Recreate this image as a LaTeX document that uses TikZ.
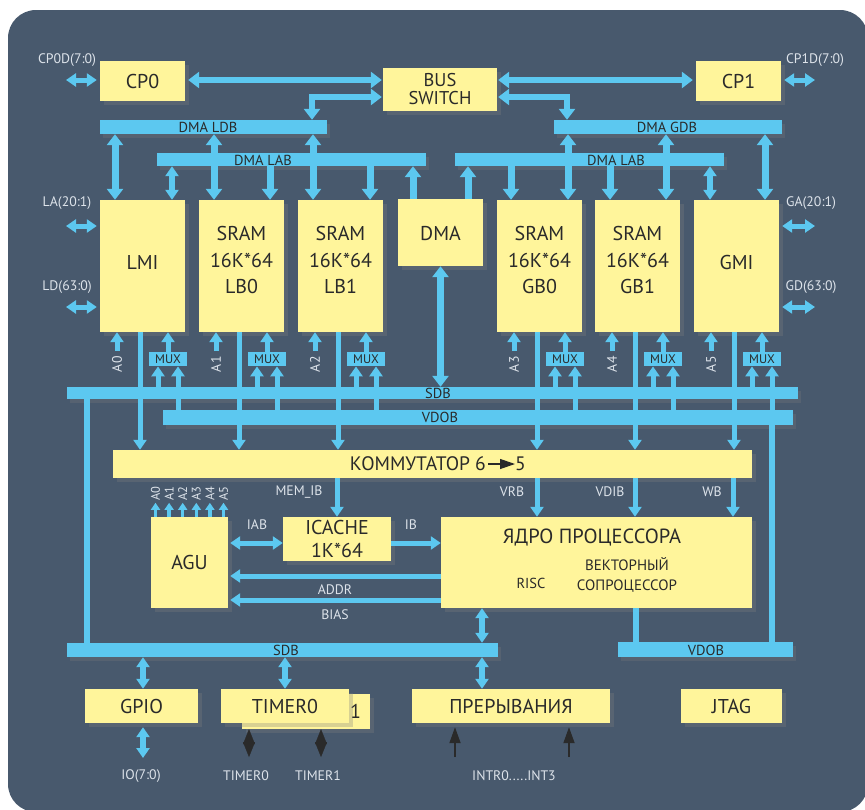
\documentclass[tikz,border=0pt]{standalone}
\usepackage{fontspec}
\setmainfont{PT Sans}
\usetikzlibrary{arrows.meta,shadows}
\definecolor{panel}{HTML}{48596D}
\definecolor{boxyellow}{HTML}{FFF59B}
\definecolor{busblue}{HTML}{5CC8F0}
\definecolor{inktext}{HTML}{2A2A2A}
\definecolor{pintext}{HTML}{DDE3EA}
\tikzset{
  block/.style={fill=boxyellow, text=inktext, inner sep=0pt, align=center,
    font=\fontsize{20}{26.5}\selectfont,
    drop shadow={shadow xshift=4pt,shadow yshift=-4pt,opacity=0.3}},
  boxtext/.style={text=inktext, inner sep=0pt, align=center, font=\fontsize{20}{26.5}\selectfont},
  coretext/.style={text=inktext, inner sep=0pt, font=\fontsize{14.5}{16}\selectfont},
  busbar/.style={fill=busblue, inner sep=0pt, minimum height=14pt,
    drop shadow={shadow xshift=3pt,shadow yshift=-4pt,opacity=0.25}},
  busname/.style={text=inktext, inner sep=0pt, font=\fontsize{14.5}{15}\selectfont},
  muxbox/.style={fill=busblue, text=inktext, inner sep=0pt, minimum width=38pt,
    minimum height=14pt, font=\fontsize{12.5}{13}\selectfont},
  pin/.style={text=pintext, inner sep=0pt, font=\fontsize{13.8}{15}\selectfont},
  fat/.style={draw=busblue, line width=7pt, >={Triangle[width=16pt,length=11pt]}},
  mid/.style={draw=busblue, line width=5pt, >={Triangle[width=13pt,length=10pt]}},
  tiny/.style={draw=busblue, line width=3.5pt, >={Triangle[width=9pt,length=7pt]}},
  sig/.style={draw=inktext, fill=inktext, line width=1.8pt, >={Triangle[width=11pt,length=16pt]}},
}
\begin{document}
\begin{tikzpicture}[x=1pt,y=-1pt]
\useasboundingbox (0,0) rectangle (865,809);
\fill[panel, rounded corners=28pt] (8,10) rectangle (868,812);

% buses
\node[busbar, minimum width=227pt] (ldb) at (213.5,127) {};
\node[busbar, minimum width=228pt] (gdb) at (668,127) {};
\node[busbar, minimum width=269pt, minimum height=13pt] (labl) at (291.5,159.5) {};
\node[busbar, minimum width=269pt, minimum height=13pt] (labr) at (589.5,159.5) {};
\node[busbar, minimum width=731pt, minimum height=12pt] (sdbup) at (432.5,393) {};
\node[busbar, minimum width=630pt, minimum height=15pt] (vdobup) at (478,417.5) {};
\node[busbar, minimum width=431pt] (sdblow) at (282.5,650) {};
\node[busbar, minimum width=175pt, minimum height=15pt] (vdoblow) at (705.5,649.5) {};
\node[busname] at (208,127) {DMA LDB};
\node[busname] at (667,127) {DMA GDB};
\node[busname] at (263,160) {DMA LAB};
\node[busname] at (616,160) {DMA LAB};
\node[busname] at (438,393) {SDB};
\node[busname] at (440,417) {VDOB};
\node[busname] at (286,650) {SDB};
\node[busname] at (706,650) {VDOB};

% blocks
\node[block, minimum width=85pt, minimum height=40pt] (cpzero) at (142.5,81) {CP0};
\node[block, minimum width=114pt, minimum height=43pt] (bus) at (440,89.5) {};
\node[boxtext, font=\fontsize{18.5}{19}\selectfont] (busup) at (440,80.5) {BUS};
\node[boxtext, font=\fontsize{18.5}{19}\selectfont] (buslow) at (440,98) {SWITCH};
\node[block, minimum width=85pt, minimum height=40pt] (cpone) at (738.5,81) {CP1};
\node[block, minimum width=85pt, minimum height=132pt] (lmi) at (142.5,266) {};
\node[block, minimum width=85pt, minimum height=132pt] (lbz) at (241.5,266) {};
\node[block, minimum width=85pt, minimum height=132pt] (lbo) at (340.5,266) {};
\node[block, minimum width=85pt, minimum height=67pt] (dma) at (440.5,232.5) {};
\node[block, minimum width=85pt, minimum height=132pt] (gbz) at (539.5,266) {};
\node[block, minimum width=85pt, minimum height=132pt] (gbo) at (637.5,266) {};
\node[block, minimum width=85pt, minimum height=132pt] (gmi) at (736.5,266) {};
\node[boxtext] at ([yshift=4pt]lmi.center) {LMI};
\node[boxtext] at ([yshift=6pt]lbz.center) {SRAM\\16K*64\\LB0};
\node[boxtext] at ([yshift=6pt]lbo.center) {SRAM\\16K*64\\LB1};
\node[boxtext] at ([yshift=-1pt]dma.center) {DMA};
\node[boxtext] at ([yshift=6pt]gbz.center) {SRAM\\16K*64\\GB0};
\node[boxtext] at ([yshift=6pt]gbo.center) {SRAM\\16K*64\\GB1};
\node[boxtext] at ([yshift=4pt]gmi.center) {GMI};
\node[block, minimum width=639pt, minimum height=28pt] (kom) at (432.5,464) {};
\node[boxtext, anchor=east, font=\fontsize{19.5}{20}\selectfont] (komtext) at (486,464) {КОММУТАТОР 6};
\node[boxtext, anchor=west, font=\fontsize{19.5}{20}\selectfont] (komfive) at (515,464) {5};
\node[block, minimum width=77pt, minimum height=91pt] (agu) at (189.5,562.5) {AGU};
\node[block, minimum width=108pt, minimum height=44pt, font=\fontsize{20}{23}\selectfont] (icache) at (337,539) {ICACHE\\1K*64};
\node[block, minimum width=311pt, minimum height=91pt] (core) at (596.5,562.5) {};
\node[boxtext, font=\fontsize{20.5}{21}\selectfont] (coretitle) at (592,538) {ЯДРО ПРОЦЕССОРА};
\node[coretext] (risc) at (531,583) {RISC};
\node[coretext, align=center, font=\fontsize{15}{20}\selectfont] (vector) at (627,575) {ВЕКТОРНЫЙ\\СОПРОЦЕССОР};
\node[block, minimum width=113pt, minimum height=34pt] (gpio) at (141.5,706) {GPIO};
\node[block, minimum width=128pt, minimum height=35pt] (tmrone) at (306,711.5) {};
\node[boxtext, anchor=east] at ([xshift=-9pt]tmrone.east) {1};
\node[block, minimum width=128pt, minimum height=34pt] (tmrzero) at (285,706) {TIMER0};
\node[block, minimum width=198pt, minimum height=34pt] (intr) at (511,706) {ПРЕРЫВАНИЯ};
\node[block, minimum width=101pt, minimum height=34pt] (jtag) at (731.5,706) {JTAG};

% outside pins
\coordinate (cpzpin) at (66,80);
\coordinate (cpopin) at (815,80);
\coordinate (lapin) at (66,226);
\coordinate (ldpin) at (66,307);
\coordinate (gapin) at (815,226);
\coordinate (gdpin) at (815,307);
\node[pin] at (67,60) {CP0D(7:0)};
\node[pin] at (815,60) {CP1D(7:0)};
\node[pin] at (67,203) {LA(20:1)};
\node[pin] at (67,287) {LD(63:0)};
\node[pin] at (811,203) {GA(20:1)};
\node[pin] at (811,287) {GD(63:0)};
\draw[mid,<->] (cpzpin) -- ([xshift=-3pt]cpzpin -| cpzero.west);
\draw[mid,<->] ([xshift=3pt]cpopin -| cpone.east) -- (cpopin);
\draw[mid,<->] (lapin) -- ([xshift=-3pt]lapin -| lmi.west);
\draw[mid,<->] (ldpin) -- ([xshift=-3pt]ldpin -| lmi.west);
\draw[mid,<->] ([xshift=3pt]gapin -| gmi.east) -- (gapin);
\draw[mid,<->] ([xshift=3pt]gdpin -| gmi.east) -- (gdpin);

% bus switch
\draw[fat,line width=6pt,<->] ([yshift=9.5pt]bus.west -| cpzero.east) ++(3,0) -- ([xshift=-1pt,yshift=9.5pt]bus.west);
\draw[fat,line width=6pt,<->] ([xshift=1pt,yshift=9.5pt]bus.east) -- ([xshift=-3pt,yshift=9.5pt]bus.east -| cpone.west);
\draw[fat,line width=6pt,<->] ([xshift=-1pt,yshift=-7.5pt]bus.west) -| ([xshift=98.5pt]ldb.north);
\draw[fat,line width=6pt,<->] ([xshift=1pt,yshift=-7.5pt]bus.east) -| ([xshift=-101pt]gdb.north);

% DMA data buses
\foreach \b in {lmi,lbz,lbo}
  \draw[fat,<->] ([xshift=-27.5pt]\b.north |- ldb.south) -- ([xshift=-27.5pt]\b.north);
\foreach \b in {gbz,gbo,gmi}
  \draw[fat,<->] ([xshift=28.5pt]\b.north |- gdb.south) -- ([xshift=28.5pt]\b.north);

% DMA address buses
\draw[mid,line width=6pt,<->] ([xshift=29.5pt]lmi.north |- labl.south) -- ([xshift=29.5pt]lmi.north);
\draw[fat,->] ([xshift=28.5pt]lbz.north |- labl.south) -- ([xshift=28.5pt]lbz.north);
\draw[fat,->] ([xshift=29.5pt]lbo.north |- labl.south) -- ([xshift=29.5pt]lbo.north);
\draw[fat,->] ([xshift=-27.5pt]dma.north) -- ([xshift=-27.5pt]dma.north |- labl.south);
\draw[fat,->] ([xshift=27.5pt]dma.north) -- ([xshift=27.5pt]dma.north |- labr.south);
\draw[fat,->] ([xshift=-28.5pt]gbz.north |- labr.south) -- ([xshift=-28.5pt]gbz.north);
\draw[fat,->] ([xshift=-27.5pt]gbo.north |- labr.south) -- ([xshift=-27.5pt]gbo.north);
\draw[mid,line width=6pt,<->] ([xshift=-26.5pt]gmi.north |- labr.south) -- ([xshift=-26.5pt]gmi.north);
\draw[fat,<->] (dma.south) -- (dma.south |- sdbup.north);

% memory outputs, addresses and MUX
\foreach \b/\a in {lmi/0,lbz/1,lbo/2,gbz/3,gbo/4,gmi/5}{
  \draw[mid,->] ([xshift=-2.5pt]\b.south) -- ([xshift=-2.5pt]\b.south |- kom.north);
  \draw[mid,->] ([xshift=-25.5pt,yshift=-19pt]\b.south) -- ([xshift=-25.5pt]\b.south);
  \node[pin, rotate=90, anchor=east] at ([xshift=-25.5pt,yshift=-24pt]\b.south) {A\a};
  \node[muxbox] (mux\a) at ([xshift=25.5pt,yshift=-27pt]\b.south) {MUX};
  \draw[mid,->] (mux\a.north) -- (mux\a.north |- \b.south);
  \draw[mid,->] ([xshift=-10pt]mux\a.south |- sdbup.north) -- ([xshift=-10pt]mux\a.south);
  \draw[mid,->] ([xshift=10pt]mux\a.south |- vdobup.north) -- ([xshift=10pt]mux\a.south);
}
\draw[mid,line width=6pt] ([xshift=10pt]mux5.south |- vdoblow.north) -- ([xshift=10pt]mux5.south |- vdobup.south);
\coordinate (sdbtap) at (87,399);
\draw[mid,line width=6pt] (sdbtap) -- (sdbtap |- sdblow.north);

% kommutator outputs
\draw[sig,line width=1.2pt,->,>={Triangle[width=10pt,length=15pt]}] ([xshift=2pt]komtext.east) -- (komfive.west);
\draw[mid,->] (kom.south -| icache.north) -- (icache.north);
\draw[mid,->] ([xshift=-59.5pt]core.north |- kom.south) -- ([xshift=-59.5pt]core.north);
\draw[mid,->] ([xshift=38.5pt]core.north |- kom.south) -- ([xshift=38.5pt]core.north);
\draw[mid,->] ([xshift=136.5pt]core.north |- kom.south) -- ([xshift=136.5pt]core.north);
\node[pin] at (299,492) {MEM\_IB};
\node[pin] at (512,492) {VRB};
\node[pin] at (610,492) {VDIB};
\node[pin] at (712,492) {WB};

% AGU and ICACHE
\foreach \i [evaluate=\i as \ax using -34+13.6*\i] in {0,...,5}{
  \draw[tiny,->] ([xshift=\ax pt]agu.north) -- ([xshift=\ax pt,yshift=14pt]agu.north);
  \node[pin, rotate=90, anchor=west, font=\fontsize{12.5}{13}\selectfont] at ([xshift=\ax pt,yshift=16pt]agu.north) {A\i};
}
\draw[mid,<->] ([xshift=2pt,yshift=-4pt]icache.west -| agu.east) -- ([yshift=-4pt]icache.west);
\draw[mid,->] ([yshift=-4pt]icache.east) -- ([yshift=-4pt]icache.east -| core.west);
\draw[mid,->] ([yshift=-13.5pt]core.west) -- ([xshift=2pt,yshift=-13.5pt]core.west -| agu.east);
\draw[mid,->] ([yshift=-37.5pt]core.west) -- ([xshift=2pt,yshift=-37.5pt]core.west -| agu.east);
\node[pin] at (257,525) {IAB};
\node[pin] at (411,525) {IB};
\node[pin] at (335,590) {ADDR};
\node[pin] at (335,615) {BIAS};

% core to lower buses
\draw[mid,line width=6pt,<->] ([xshift=-114.5pt]core.south) -- ([xshift=-114.5pt]core.south |- sdblow.north);
\draw[mid,line width=6pt,<->] ([xshift=-114.5pt]core.south |- sdblow.south) -- ([xshift=-114.5pt]core.south |- intr.north);
\draw[mid,line width=6pt] ([xshift=39.5pt]core.south) -- ([xshift=39.5pt]core.south |- vdoblow.north);

% peripherals
\coordinate (ioend) at (143,758);
\coordinate (tmzend) at (249,757);
\coordinate (tmoend) at (321,757);
\coordinate (intzend) at (455,757);
\coordinate (intoend) at (569,757);
\draw[mid,line width=6pt,<->] (sdblow.south -| ioend) -- (gpio.north -| ioend);
\draw[mid,line width=6pt,<->] (sdblow.south -| tmrzero.north) -- (tmrzero.north);
\draw[mid,line width=6pt,<->] ([yshift=-4pt]gpio.south -| ioend) -- (ioend);
\draw[sig,line width=0.3pt,<->,>={Triangle[width=12pt,length=15pt]}] (tmrone.south -| tmzend) -- (tmzend);
\draw[sig,line width=0.3pt,<->,>={Triangle[width=12pt,length=15pt]}] (tmrone.south -| tmoend) -- (tmoend);
\draw[sig,->] (intzend) -- ([yshift=-4pt]intr.south -| intzend);
\draw[sig,->] (intoend) -- ([yshift=-4pt]intr.south -| intoend);
\node[pin] at (141,776) {IO(7:0)};
\node[pin] at (246,776) {TIMER0};
\node[pin] at (318,776) {TIMER1};
\node[pin] at (514,776) {INTR0.....INT3};
\end{tikzpicture}
\end{document}
